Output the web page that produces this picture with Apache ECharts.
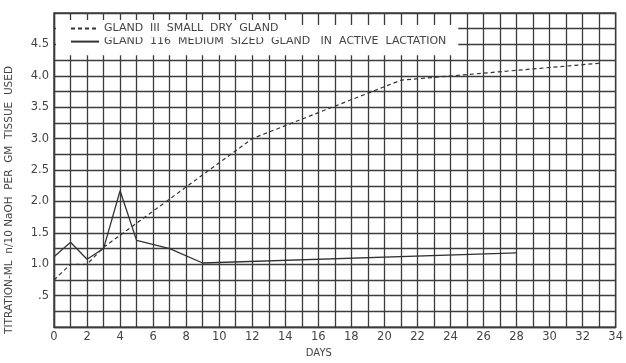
<!DOCTYPE html>
<html>
<head>
<meta charset="utf-8">
<script src="https://cdn.jsdelivr.net/npm/echarts@6/dist/echarts.min.js"></script>
<style>
html,body{margin:0;padding:0;background:#fff;}
#c{width:626px;height:363px;}
</style>
</head>
<body>
<div id="c"></div>
<script>
// ---- data ----
var seriesNames = ['GLAND  III  SMALL  DRY  GLAND', 'GLAND  116  MEDIUM  SIZED  GLAND   IN  ACTIVE  LACTATION'];
var days111 = [0, 1, 2, 3, 12, 21, 33];
var vals111 = [0.75, 1.0, 1.0, 1.27, 3.0, 3.93, 4.2];
var days116 = [0, 1, 2, 3, 4, 5, 7, 9, 28];
var vals116 = [1.12, 1.35, 1.08, 1.25, 2.17, 1.38, 1.25, 1.02, 1.18];
var xTickLabels = ['0','2','4','6','8','10','12','14','16','18','20','22','24','26','28','30','32','34'];
var yTickLabels = ['.5','1.0','1.5','2.0','2.5','3.0','3.5','4.0','4.5'];
var yAxisTitle = 'TITRATION-ML  n/10 NaOH  PER  GM  TISSUE  USED';
var xAxisTitle = 'DAYS';

function pairs(xs, ys){ return xs.map(function(x,i){ return [x, ys[i]]; }); }

var ink = '#333';
var gridInk = '#3c3c3c';
var font = 'DejaVu Sans';

var chart = echarts.init(document.getElementById('c'), null, {renderer:'canvas'});
chart.setOption({
  backgroundColor: '#fff',
  animation: false,
  color: [ink, ink],
  grid: {left: 54, right: 8, top: 13, bottom: 25, show: true, borderColor: gridInk, borderWidth: 1.4},
  xAxis: {
    type: 'value', min: 0, max: 34, interval: 1,
    axisLine: {show: true, lineStyle: {color: gridInk, width: 1.4}},
    axisTick: {show: false},
    splitLine: {show: true, lineStyle: {color: gridInk, width: 1.3}},
    axisLabel: {
      margin: 4, color: '#444', fontFamily: font, fontSize: 11.5,
      formatter: function(v){ return (v % 2 === 0) ? xTickLabels[v/2] : ''; }
    },
    name: xAxisTitle, nameLocation: 'middle', nameGap: 17,
    nameTextStyle: {color: '#444', fontFamily: font, fontSize: 10, padding: [0, 32, 0, 0]}
  },
  yAxis: {
    type: 'value', min: 0, max: 5, interval: 0.25,
    axisLine: {show: true, lineStyle: {color: gridInk, width: 1.4}},
    axisTick: {show: false},
    splitLine: {show: true, lineStyle: {color: gridInk, width: 1.3}},
    axisLabel: {
      margin: 5, color: '#444', fontFamily: font, fontSize: 11.5,
      formatter: function(v){
        var k = Math.round(v*4);
        if (k % 2 !== 0 || k === 0) return '';
        var idx = k/2 - 1;
        return idx < yTickLabels.length ? yTickLabels[idx] : '';
      }
    }
  },
  legend: [
    {
      data: [seriesNames[0]], left: 56, top: 20, orient: 'vertical',
      backgroundColor: '#fff', padding: [3, 20, 3, 14],
      itemWidth: 28, itemHeight: 14, itemGap: 5, z: 6,
      itemStyle: {color: 'transparent', borderWidth: 0, opacity: 0},
      textStyle: {color: '#444', fontFamily: font, fontSize: 11}
    },
    {
      data: [seriesNames[1]], left: 56, top: 25, orient: 'vertical',
      backgroundColor: '#fff', padding: [11, 12, 8, 14],
      itemWidth: 28, itemHeight: 14, itemGap: 5, z: 5,
      itemStyle: {color: 'transparent', borderWidth: 0, opacity: 0},
      textStyle: {color: '#444', fontFamily: font, fontSize: 11}
    }
  ],
  graphic: [
    {
      type: 'text', left: 4, top: 66, rotation: Math.PI/2, z: 10,
      style: {text: yAxisTitle, fill: '#444', font: '10.5px "DejaVu Sans"'}
    }
  ],
  series: [
    {
      name: seriesNames[0], type: 'line', data: pairs(days111, vals111),
      symbol: 'none', z: 3, itemStyle: {color: ink},
      lineStyle: {color: ink, width: 1.2, type: [4, 3]}
    },
    {
      name: seriesNames[1], type: 'line', data: pairs(days116, vals116),
      symbol: 'none', z: 3, itemStyle: {color: ink},
      lineStyle: {color: ink, width: 1.3, type: 'solid'}
    }
  ]
});
</script>
</body>
</html>
